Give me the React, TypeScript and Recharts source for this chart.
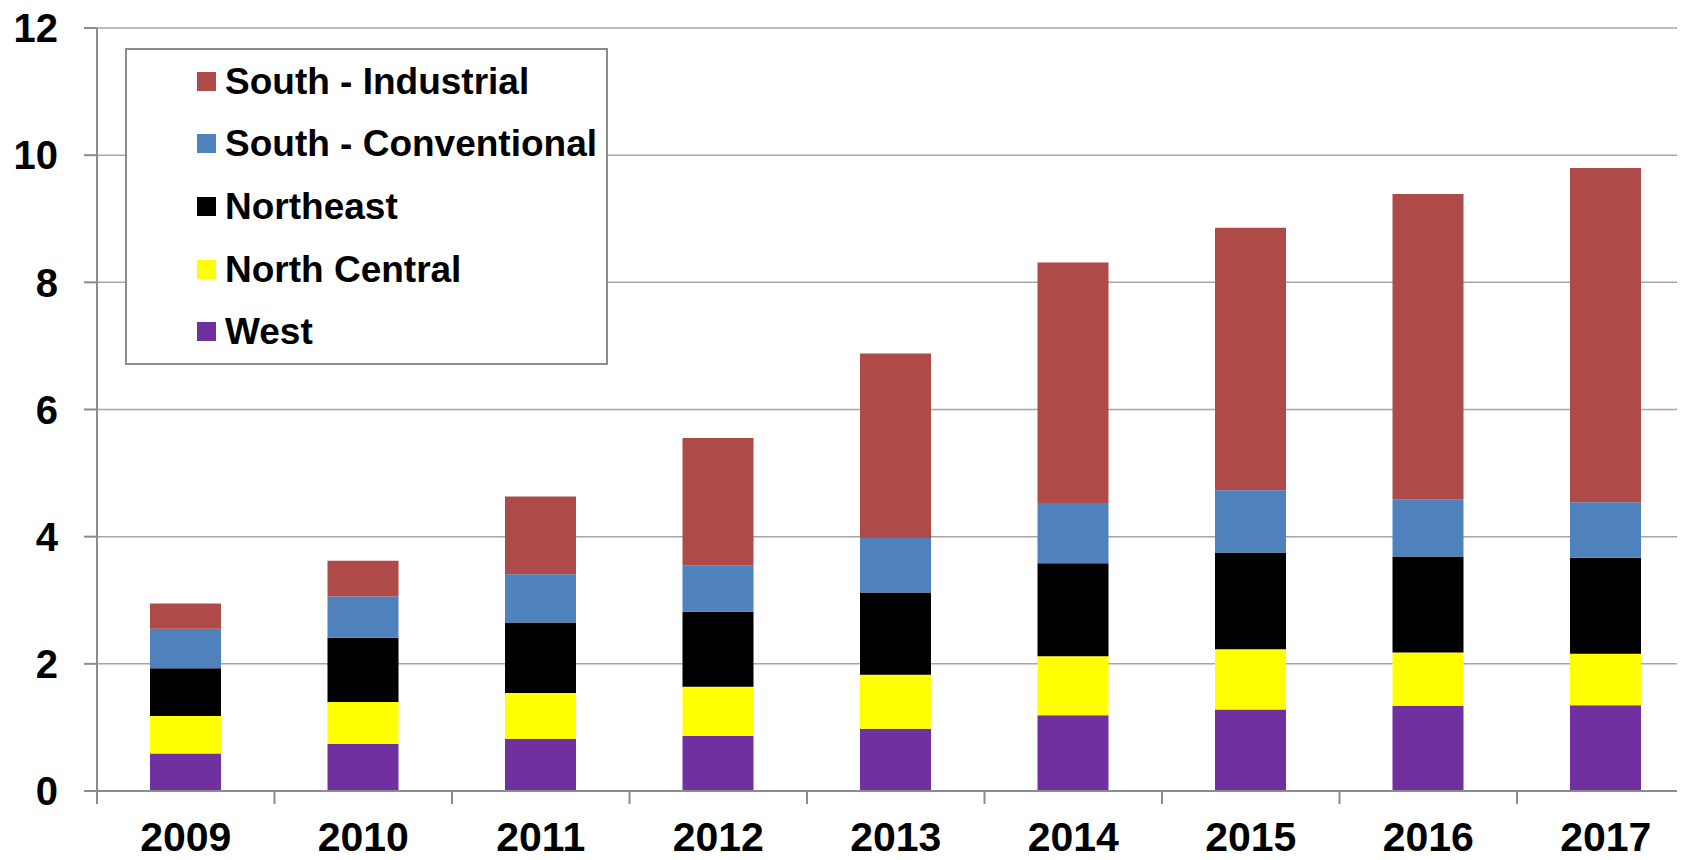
import { Bar, BarChart, XAxis, YAxis, CartesianGrid, Legend } from "recharts"

const years = ["2009", "2010", "2011", "2012", "2013", "2014", "2015", "2016", "2017"]

const west = [0.59, 0.74, 0.82, 0.87, 0.98, 1.19, 1.28, 1.34, 1.35]
const northCentral = [0.59, 0.66, 0.72, 0.77, 0.85, 0.93, 0.95, 0.84, 0.81]
const northeast = [0.75, 1.01, 1.11, 1.18, 1.29, 1.46, 1.52, 1.51, 1.51]
const southConventional = [0.62, 0.65, 0.76, 0.73, 0.86, 0.95, 0.98, 0.9, 0.87]
const southIndustrial = [0.4, 0.56, 1.22, 2.0, 2.9, 3.78, 4.13, 4.8, 5.26]

const yTicks = [0, 2, 4, 6, 8, 10, 12]
const bandTicks = [0, 1, 2, 3, 4, 5, 6, 7, 8]

const series = [
  { key: "west", name: "West", color: "#7030A0" },
  { key: "northCentral", name: "North Central", color: "#FFFF00" },
  { key: "northeast", name: "Northeast", color: "#000000" },
  { key: "southConventional", name: "South - Conventional", color: "#4F81BD" },
  { key: "southIndustrial", name: "South - Industrial", color: "#AE4A47" },
]

const data = years.map((year, i) => ({
  year,
  west: west[i],
  northCentral: northCentral[i],
  northeast: northeast[i],
  southConventional: southConventional[i],
  southIndustrial: southIndustrial[i],
}))

const font = "'Liberation Sans', Arial, sans-serif"
const axisGray = "#8c8c8c"

const chartWidth = 1700
const yAxisWidth = 97
const rightMargin = 5.5
// one band per year; the boundary-tick axis stops one band short of the right edge
const bandWidth = (chartWidth - yAxisWidth - rightMargin) / years.length

function LegendBox() {
  return (
    <div
      style={{
        boxSizing: "border-box",
        width: 483,
        height: 317,
        border: `2px solid ${axisGray}`,
        background: "#fff",
        fontFamily: font,
      }}
    >
      {[...series].reverse().map((s) => (
        <div key={s.key} style={{ height: 62.6, display: "flex", alignItems: "center" }}>
          <div style={{ width: 19, height: 19, background: s.color, marginLeft: 70, marginRight: 9 }} />
          <span style={{ fontSize: 37, fontWeight: 700, lineHeight: 1, color: "#000" }}>{s.name}</span>
        </div>
      ))}
    </div>
  )
}

export default function App() {
  return (
    <div style={{ margin: -8, width: 1685, height: 860, overflow: "hidden", background: "#fff" }}>
      <BarChart
        width={chartWidth}
        height={860}
        data={data}
        margin={{ top: 28, right: rightMargin, left: 0, bottom: 0 }}
        barSize={71}
      >
        <CartesianGrid vertical={false} stroke="#a6a6a6" strokeWidth={1.5} />
        <XAxis
          xAxisId="cat"
          dataKey="year"
          height={68}
          axisLine={false}
          tickLine={false}
          tickSize={0}
          tickMargin={30}
          tick={{ fontSize: 41, fontWeight: 700, fill: "#000", fontFamily: font }}
        />
        <YAxis
          width={yAxisWidth}
          domain={[0, 12]}
          ticks={yTicks}
          interval={0}
          axisLine={{ stroke: axisGray, strokeWidth: 2 }}
          tickLine={{ stroke: axisGray, strokeWidth: 2 }}
          tickSize={13}
          tickMargin={26}
          tick={{ fontSize: 40, fontWeight: 700, fill: "#000", fontFamily: font }}
        />
        <Legend
          layout="vertical"
          align="center"
          verticalAlign="middle"
          content={() => <LegendBox />}
          wrapperStyle={{ left: 125, top: 48, width: 483, height: 317 }}
        />
        {series.map((s) => (
          <Bar
            key={s.key}
            xAxisId="cat"
            dataKey={s.key}
            name={s.name}
            stackId="a"
            fill={s.color}
            isAnimationActive={false}
          />
        ))}
        {/* baseline + boundary ticks between the years, on their own axis (id 0 sits next to the plot) */}
        <XAxis
          xAxisId={0}
          type="number"
          scale="linear"
          domain={[0, years.length - 1]}
          padding={{ left: 0, right: bandWidth }}
          ticks={bandTicks}
          interval={0}
          height={1}
          tick={() => <g />}
          axisLine={{ stroke: axisGray, strokeWidth: 2 }}
          tickSize={13}
          tickLine={{ stroke: axisGray, strokeWidth: 2 }}
        />
      </BarChart>
    </div>
  )
}
